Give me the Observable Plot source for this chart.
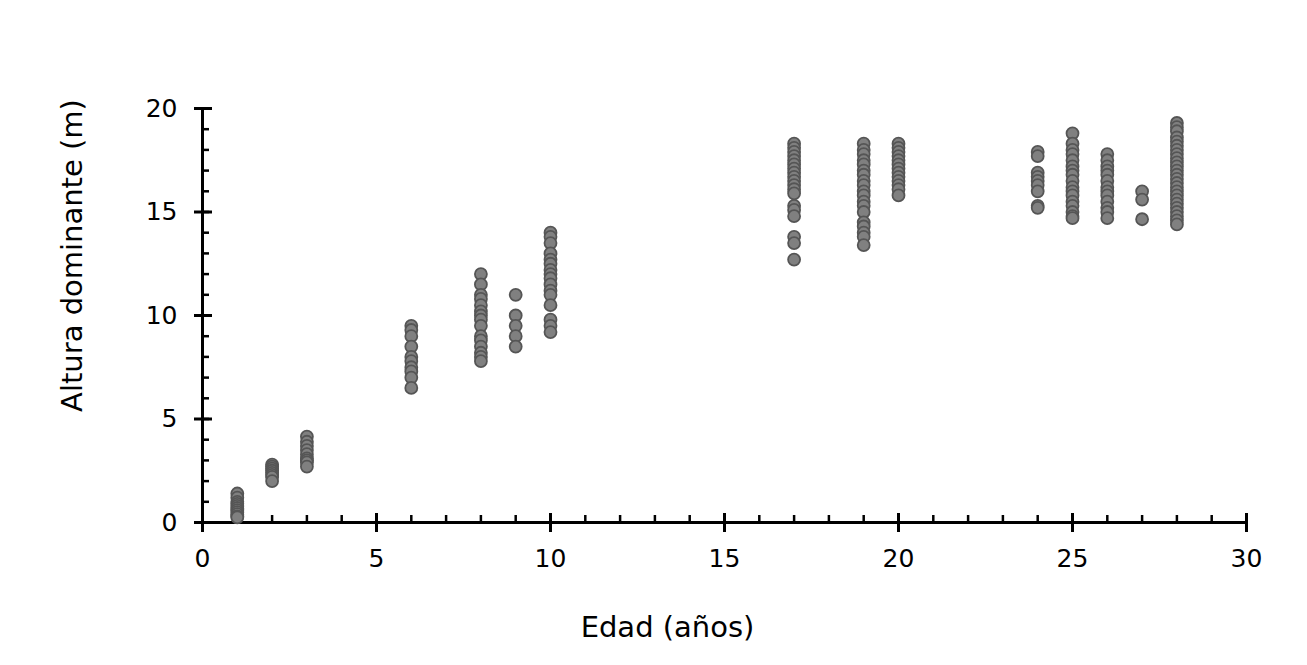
<!DOCTYPE html>
<html>
<head>
<meta charset="utf-8">
<script src="https://cdn.jsdelivr.net/npm/d3@7"></script>
<script src="https://cdn.jsdelivr.net/npm/@observablehq/plot@0.6"></script>
<style>
  body { margin: 0; background: #fff; }
  #chart svg { display: block; }
</style>
</head>
<body>
<div id="chart"></div>
<script>
// Edad (años) of each group
const ages = [1, 2, 3, 6, 8, 9, 10, 17, 19, 20, 24, 25, 26, 27, 28];
// Altura dominante (m) for each age group
const h1  = [1.4, 1.2, 1.0, 0.9, 0.8, 0.7, 0.6, 0.5, 0.4, 0.3, 0.25];
const h2  = [2.8, 2.7, 2.6, 2.5, 2.4, 2.3, 2.2, 2.0];
const h3  = [4.15, 3.9, 3.7, 3.5, 3.3, 3.1, 3.0, 2.9, 2.7];
const h6  = [9.5, 9.3, 9.0, 8.5, 8.0, 7.8, 7.5, 7.3, 7.0, 6.5];
const h8  = [12.0, 11.5, 11.0, 10.8, 10.5, 10.2, 10.0, 9.8, 9.5, 9.0, 8.8, 8.5, 8.2, 8.0, 7.8];
const h9  = [11.0, 10.0, 9.5, 9.0, 8.5];
const h10 = [14.0, 13.8, 13.5, 13.0, 12.7, 12.5, 12.2, 12.0, 11.8, 11.5, 11.2, 11.0, 10.5, 9.8, 9.5, 9.2];
const h17 = [18.3, 18.1, 17.9, 17.7, 17.5, 17.3, 17.1, 16.9, 16.7, 16.5, 16.3, 16.1, 15.9, 15.3, 15.1, 14.8, 13.8, 13.5, 12.7];
const h19 = [18.3, 18.0, 17.8, 17.5, 17.3, 17.0, 16.8, 16.5, 16.3, 16.0, 15.8, 15.5, 15.3, 15.0, 14.5, 14.3, 14.0, 13.8, 13.4];
const h20 = [18.3, 18.1, 17.9, 17.7, 17.5, 17.3, 17.1, 16.9, 16.7, 16.5, 16.3, 16.1, 15.8];
const h24 = [17.9, 17.7, 16.9, 16.7, 16.5, 16.3, 16.0, 15.3, 15.2];
const h25 = [18.8, 18.3, 18.0, 17.8, 17.5, 17.2, 17.0, 16.8, 16.5, 16.2, 16.0, 15.8, 15.5, 15.3, 15.0, 14.8, 14.7];
const h26 = [17.8, 17.5, 17.2, 17.0, 16.8, 16.5, 16.2, 16.0, 15.8, 15.5, 15.2, 15.0, 14.7];
const h27 = [16.0, 15.6, 14.65];
const h28 = [19.3, 19.1, 18.9, 18.6, 18.4, 18.2, 18.0, 17.8, 17.6, 17.4, 17.2, 17.0, 16.8, 16.6, 16.4, 16.2, 16.0, 15.8, 15.6, 15.4, 15.2, 15.0, 14.8, 14.6, 14.4];
const heights = [h1, h2, h3, h6, h8, h9, h10, h17, h19, h20, h24, h25, h26, h27, h28];

// Tick values
const xTicks = [0, 5, 10, 15, 20, 25, 30];
const xMinor = [0,1,2,3,4,5,6,7,8,9,10,11,12,13,14,15,16,17,18,19,20,21,22,23,24,25,26,27,28,29,30];
const yTicks = [0, 5, 10, 15, 20];
const yMinor = [0,1,2,3,4,5,6,7,8,9,10,11,12,13,14,15,16,17,18,19,20];
const xTitle = "Edad (años)";
const yTitle = "Altura dominante (m)";

const data = ages.flatMap((a, i) => heights[i].map(h => ({edad: a, altura: h})));

const chart = Plot.plot({
  width: 1307,
  height: 665,
  marginLeft: 202,
  marginRight: 61,
  marginTop: 108,
  marginBottom: 143,
  x: {domain: [0, 30]},
  y: {domain: [0, 20]},
  style: {fontFamily: "DejaVu Sans", fontSize: "25px", color: "#000", background: "#fff"},
  marks: [
    // minor ticks (inward)
    Plot.axisX(xMinor, {tickSize: -7, strokeWidth: 2.5, text: null, label: null}),
    Plot.axisY(yMinor, {tickSize: -7, strokeWidth: 2.5, text: null, label: null}),
    // major ticks (crossing the axis)
    Plot.axisX(xTicks, {tickSize: 10, strokeWidth: 3, text: null, label: null}),
    Plot.axisX(xTicks, {tickSize: -9, strokeWidth: 3, text: null, label: null}),
    Plot.axisY(yTicks, {tickSize: 8, strokeWidth: 3, text: null, label: null}),
    Plot.axisY(yTicks, {tickSize: -10, strokeWidth: 3, text: null, label: null}),
    // tick labels
    Plot.axisX(xTicks, {tickSize: 0, tickPadding: 27, fontSize: 25, label: null}),
    Plot.axisY(yTicks, {tickSize: 0, tickPadding: 25, fontSize: 25, label: null}),
    // axis lines
    Plot.ruleY([0], {strokeWidth: 3}),
    Plot.ruleX([0], {strokeWidth: 3}),
    // axis titles
    Plot.text([xTitle], {frameAnchor: "bottom", textAnchor: "middle", lineAnchor: "middle", dx: -57, dy: 105, fontSize: 29}),
    Plot.text([yTitle], {frameAnchor: "left", textAnchor: "middle", lineAnchor: "middle", rotate: -90, dx: -130, dy: -60, fontSize: 29}),
    // data
    Plot.dot(data, {x: "edad", y: "altura", r: 6, fill: "#808080", stroke: "#555555", strokeWidth: 1.8})
  ]
});
document.getElementById("chart").append(chart);
</script>
</body>
</html>
